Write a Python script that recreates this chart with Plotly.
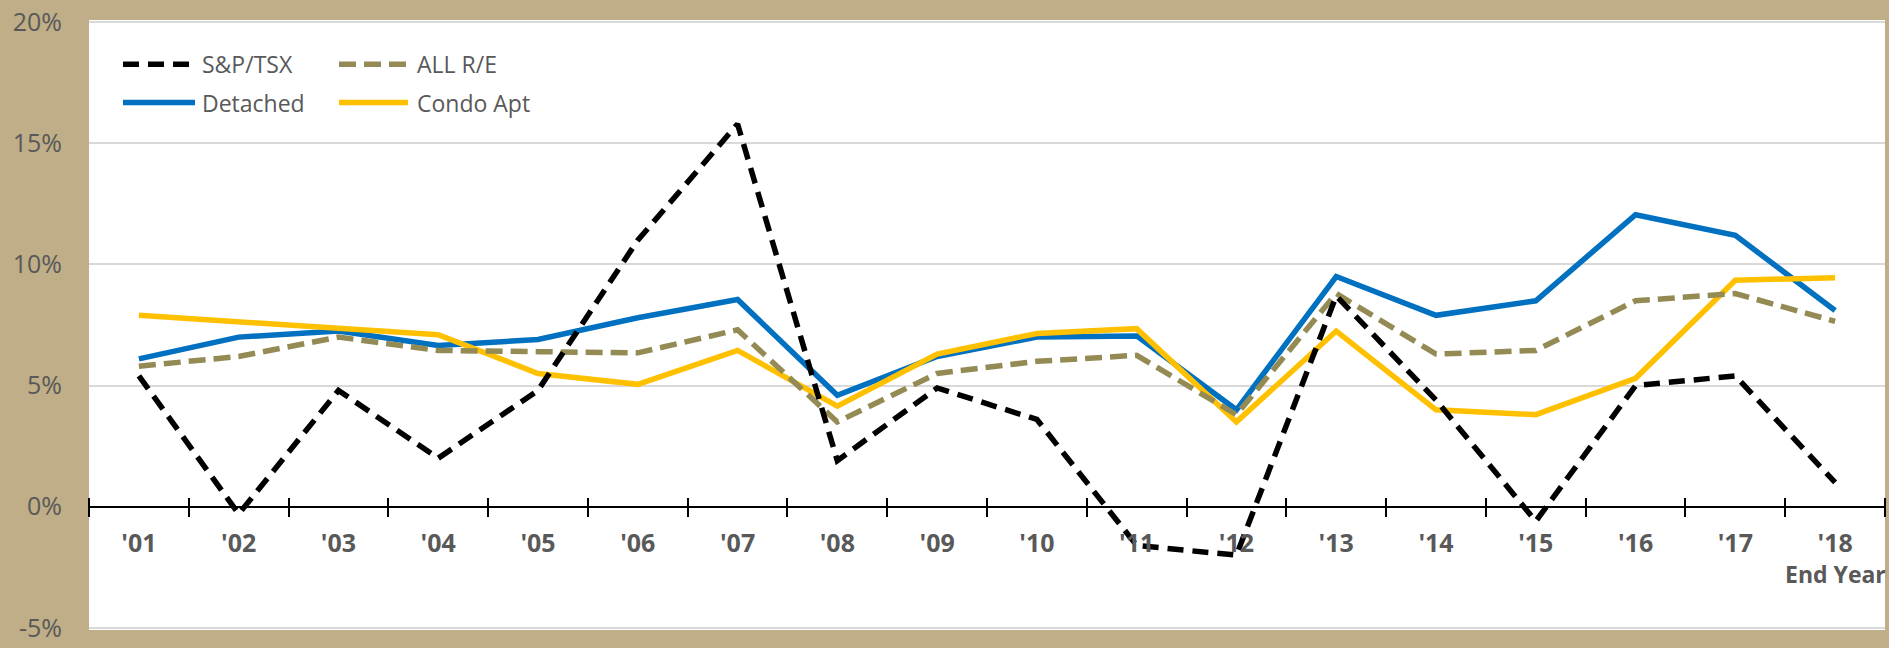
import plotly.graph_objects as go

# ---- data (annual % change) ----
years = ["'01", "'02", "'03", "'04", "'05", "'06", "'07", "'08", "'09",
         "'10", "'11", "'12", "'13", "'14", "'15", "'16", "'17", "'18"]
sp_tsx = [5.4, -0.3, 4.8, 2.0, 4.8, 11.0, 15.8, 1.9, 4.9,
          3.6, -1.6, -2.0, 8.7, 4.4, -0.6, 5.0, 5.4, 1.0]
all_re = [5.8, 6.2, 7.0, 6.45, 6.4, 6.35, 7.3, 3.5, 5.5,
          6.0, 6.25, 3.8, 8.8, 6.3, 6.45, 8.5, 8.8, 7.65]
detached = [6.1, 7.0, 7.25, 6.65, 6.9, 7.8, 8.55, 4.6, 6.2,
            7.0, 7.05, 4.0, 9.5, 7.9, 8.5, 12.05, 11.2, 8.1]
condo = [7.9, 7.65, 7.4, 7.1, 5.5, 5.05, 6.45, 4.15, 6.3,
         7.15, 7.35, 3.5, 7.25, 4.0, 3.8, 5.3, 9.35, 9.45]

series_names = ["S&P/TSX", "ALL R/E", "Detached", "Condo Apt"]
y_ticks = [-5, 0, 5, 10, 15, 20]
y_tick_labels = ["-5%", "0%", "5%", "10%", "15%", "20%"]

# ---- styles ----
TAN = "#BFAE87"
TXT = "#595959"
FONT = "Open Sans"
styles = {
    "S&P/TSX": dict(color="#000000", width=5.5, dash="16px,9px"),
    "ALL R/E": dict(color="#948A54", width=5.5, dash="17px,8px"),
    "Detached": dict(color="#0070C0", width=5.5, dash="solid"),
    "Condo Apt": dict(color="#FFC000", width=5.5, dash="solid"),
}
values = {"S&P/TSX": sp_tsx, "ALL R/E": all_re,
          "Detached": detached, "Condo Apt": condo}

fig = go.Figure()
# drawing order: Detached bottom, then Condo, ALL R/E, S&P on top
for name in ["Detached", "Condo Apt", "ALL R/E", "S&P/TSX"]:
    fig.add_trace(go.Scatter(
        x=years, y=values[name], name=name, mode="lines",
        line=styles[name], showlegend=False, hoverinfo="x+y+name"))

W, H = 1889, 648
ML, MR, MT, MB = 89, 4, 15, 12
ymin, ymax = y_ticks[0], y_ticks[-1]
eps = 0.09  # small padding so the edge gridlines/labels are kept
plot_h = H - MT - MB
zero_frac = (0 - (ymin - eps)) / (ymax - ymin + 2 * eps)
axis_pos = zero_frac + 9.5 / plot_h   # tick marks straddle the zero line

fig.update_layout(
    width=W, height=H,
    margin=dict(l=ML, r=MR, t=MT, b=MB, pad=0),
    paper_bgcolor=TAN, plot_bgcolor="#FFFFFF",
    font=dict(family=FONT, color=TXT),
    showlegend=False,
    xaxis=dict(
        type="category", range=[-0.5, len(years) - 0.5],
        anchor="free", position=axis_pos,
        showline=False, showgrid=False, zeroline=False,
        ticks="outside", tickson="boundaries", ticklen=19,
        tickwidth=2, tickcolor="#000000",
        tickfont=dict(family=FONT, size=25, color=TXT, weight="bold"),
        ticklabelstandoff=29,
    ),
    yaxis=dict(
        range=[ymin - eps, ymax + eps],
        tickmode="array", tickvals=y_ticks, ticktext=y_tick_labels,
        showgrid=True, gridcolor="#D9D9D9", gridwidth=2,
        zeroline=True, zerolinecolor="#000000", zerolinewidth=2,
        showline=False, ticks="",
        tickfont=dict(family=FONT, size=25, color=TXT),
        ticklabelstandoff=26, ticklabeloverflow="allow",
    ),
)

# "End Year" note under the last category
fig.add_annotation(text="<b>End Year</b>", xref="paper", yref="paper",
                   x=1, y=(H - MB - 579) / plot_h, xanchor="right",
                   yanchor="middle", xshift=3, showarrow=False,
                   font=dict(family=FONT, size=23, color=TXT))

# custom legend (two columns, long line samples)
plot_w = W - ML - MR
def px_x(px):
    return (px - ML) / plot_w
def px_y(py):
    return (H - MB - py) / plot_h

legend_layout = {
    "S&P/TSX": (123, 195, 200, 60),
    "Detached": (123, 195, 200, 99),
    "ALL R/E": (339, 408, 415, 60),
    "Condo Apt": (339, 408, 415, 99),
}
for name in series_names:
    x0, x1, xt, yy = legend_layout[name]
    st = styles[name]
    fig.add_shape(type="line", xref="paper", yref="paper",
                  x0=px_x(x0), x1=px_x(x1), y0=px_y(yy), y1=px_y(yy),
                  line=dict(color=st["color"], width=st["width"],
                            dash=st["dash"]))
    fig.add_annotation(text=name, xref="paper", yref="paper",
                       x=px_x(xt), y=px_y(yy), xanchor="left",
                       yanchor="middle", showarrow=False,
                       font=dict(family=FONT, size=23, color=TXT))

fig.write_html("out.html")
